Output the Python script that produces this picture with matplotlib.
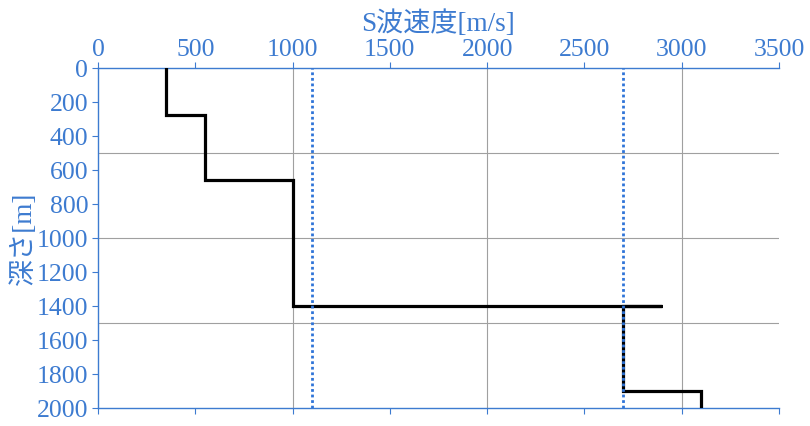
import matplotlib.pyplot as plt
from matplotlib.ticker import MultipleLocator

# S-wave velocity profile (step line)
velocity = [350, 350, 550, 550, 1000, 1000, 2900, 2700, 2700, 3100, 3100]
depth = [0, 275, 275, 660, 660, 1400, 1400, 1400, 1900, 1900, 2000]

# reference velocities (dotted lines)
ref_velocity = [1100, 2700]

BLUE = "#3d7bd0"
FONT = ["Liberation Serif", "Noto Sans CJK JP"]

plt.rcParams["font.family"] = FONT

fig = plt.figure(figsize=(8.1, 4.26), dpi=100)
ax = fig.add_axes([0.121, 0.042, 0.8407, 0.798])

ax.plot(velocity, depth, color="black", lw=2.3, solid_joinstyle="miter", zorder=3)
for v in ref_velocity:
    ax.axvline(v, color="#2f74d8", lw=2.0, ls=(0, (1, 1)), zorder=4)

ax.set_xlim(0, 3500)
ax.set_ylim(2000, 0)

ax.xaxis.tick_top()
ax.xaxis.set_label_position("top")
ax.xaxis.set_major_locator(MultipleLocator(500))
ax.yaxis.set_major_locator(MultipleLocator(200))

# gridlines every 1000 m/s and every 500 m
for gx in [1000, 2000, 3000]:
    ax.axvline(gx, color="#a0a0a0", lw=0.8, zorder=1)
for gy in [500, 1000, 1500]:
    ax.axhline(gy, color="#a0a0a0", lw=0.8, zorder=1)

ax.tick_params(axis="x", which="both", colors=BLUE, labelsize=18.5, length=4,
               direction="out", top=True, bottom=True, labelbottom=False, pad=1)
ax.tick_params(axis="y", colors=BLUE, labelsize=18.5, length=4, direction="out", pad=3)
for lab in ax.get_xticklabels() + ax.get_yticklabels():
    lab.set_color(BLUE)

for side in ["top", "left", "bottom"]:
    ax.spines[side].set_color(BLUE)
    ax.spines[side].set_linewidth(1.0)
ax.spines["right"].set_visible(False)

ax.set_xlabel("S波速度[m/s]", color=BLUE, fontsize=19.5, labelpad=6)
ax.set_ylabel("深さ[m]", color=BLUE, fontsize=19.5, labelpad=0)

fig.savefig("out.png", dpi=100)
